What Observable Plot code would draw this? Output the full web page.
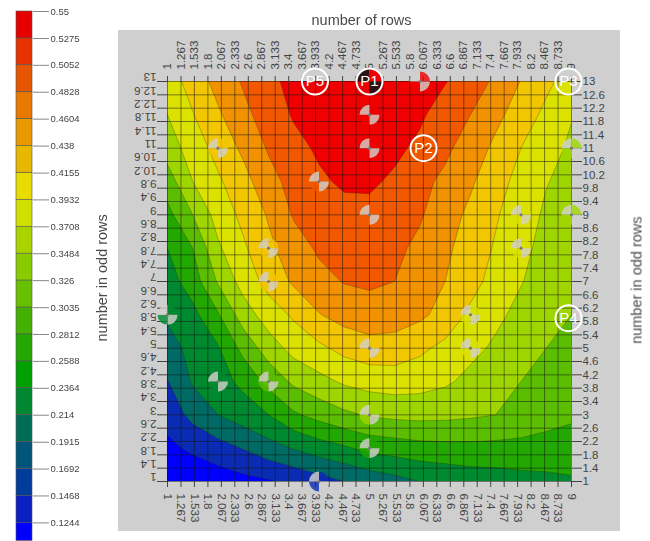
<!DOCTYPE html>
<html>
<head>
<meta charset="utf-8">
<script src="https://cdn.jsdelivr.net/npm/d3@7"></script>
<script src="https://cdn.jsdelivr.net/npm/@observablehq/plot@0.6"></script>
<style>
html,body{margin:0;padding:0;background:#fff;}
#wrap{position:relative;width:650px;height:541px;overflow:hidden;filter:blur(0.4px);}
#panel{position:absolute;left:118px;top:30px;width:502px;height:501px;background:#cfcfcf;}
#chart,#bar{position:absolute;left:0;top:0;}
svg{background:transparent !important;display:block;}
</style>
</head>
<body>
<div id="wrap"><div id="panel"></div><div id="chart"></div><div id="bar"></div></div>
<script>
const xTicks=[1,1.267,1.533,1.8,2.067,2.333,2.6,2.867,3.133,3.4,3.667,3.933,4.2,4.467,4.733,5,5.267,5.533,5.8,6.067,6.333,6.6,6.867,7.133,7.4,7.667,7.933,8.2,8.467,8.733,9];
const yTicks=[1,1.4,1.8,2.2,2.6,3,3.4,3.8,4.2,4.6,5,5.4,5.8,6.2,6.6,7,7.4,7.8,8.2,8.6,9,9.4,9.8,10.2,10.6,11,11.4,11.8,12.2,12.6,13];
const gridCols=17;
const row1 =[.0818,.0934,.1031,.1128,.1205,.1321,.1476,.1631,.1766,.1882,.2018,.2095,.2173,.2211,.2269,.2308,.2354];
const row2 =[.1147,.1321,.1476,.1650,.1863,.2037,.2211,.2347,.2521,.2579,.2649,.2676,.2687,.2676,.2668,.2637,.2629];
const row3 =[.1399,.1747,.2018,.2211,.2405,.2734,.2927,.3101,.3218,.3276,.3295,.3276,.3237,.3179,.3063,.2947,.2850];
const row4 =[.1612,.2057,.2250,.2502,.2908,.3256,.3449,.3623,.3720,.3758,.3720,.3623,.3468,.3334,.3179,.3082,.2985];
const row5 =[.1863,.2134,.2366,.2908,.3372,.3700,.3875,.4068,.4184,.4165,.4030,.3855,.3662,.3507,.3353,.3179,.3082];
const row6 =[.2076,.2289,.2753,.3372,.3758,.4010,.4320,.4494,.4571,.4533,.4416,.4204,.3875,.3643,.3468,.3314,.3179];
const row7 =[.2231,.2598,.3218,.3720,.4087,.4397,.4610,.4745,.4784,.4726,.4533,.4339,.4087,.3816,.3584,.3410,.3256];
const row8 =[.2405,.2792,.3507,.3894,.4254,.4552,.4784,.4881,.4900,.4803,.4649,.4416,.4165,.3913,.3662,.3449,.3334];
const row9 =[.2676,.3179,.3720,.4049,.4378,.4765,.4919,.4997,.5016,.4919,.4765,.4513,.4254,.3991,.3739,.3507,.3391];
const row10=[.2985,.3565,.3894,.4204,.4590,.4861,.5055,.5171,.5171,.5055,.4823,.4649,.4397,.4087,.3836,.3584,.3449];
const row11=[.3372,.3739,.4087,.4416,.4765,.4997,.5171,.5248,.5287,.5190,.5036,.4803,.4552,.4254,.3952,.3700,.3507];
const row12=[.3565,.3933,.4281,.4629,.4900,.5152,.5268,.5345,.5345,.5287,.5171,.4939,.4726,.4436,.4165,.3855,.3584];
const row13=[.3758,.4107,.4474,.4765,.5016,.5229,.5326,.5403,.5480,.5403,.5287,.5132,.4939,.4649,.4323,.4049,.3758];
const levels=[.1244,.1631,.2018,.2405,.2792,.3179,.3566,.3953,.4340,.4727,.5114];
const bandColors=["#0000ff","#0a2cb4","#006a64","#008a30","#22a800","#5cbe00","#a0d600","#dce200","#f2c600","#f29200","#f25800","#f00000"];
const pointX=[2,5,5,5,6,4,3,3,1,2,3,5,5,5,4,7,7,8,8,9,9];
const pointY=[11,12,11,9,13,10,8,7,6,4,4,5,3,2,1,6,5,9,8,11,9];
const pointV=[.4087,.5345,.5287,.5016,.5287,.5055,.4254,.4087,.2076,.2250,.2908,.4184,.3218,.2521,.1476,.3875,.3662,.3739,.3662,.3507,.3391];
const optimumX=[5],optimumY=[13],optimumV=[.548];
const pNames=["P1","P2","P3","P4","P5"];
const pX=[5,6.07,8.94,8.94,3.92];
const pY=[13,11,13,5.9,13];
const barTicks=[.55,.5275,.5052,.4828,.4604,.438,.4155,.3932,.3708,.3484,.326,.3035,.2812,.2588,.2364,.214,.1915,.1692,.1468,.1244];
const barColors=["#e60000","#e63200","#e65600","#e87800","#e89a00","#e8b800","#e8dc00","#cfe000","#aad400","#88cc00","#66c000","#44b000","#22a800","#00a000","#008830","#006e55","#005578","#003c9a","#0a20c0","#0000ff"];
const barFloor=.1094;

const values=[row1,row2,row3,row4,row5,row6,row7,row8,row9,row10,row11,row12,row13].flat();
const gridRows=values.length/gridCols;
const points=pointX.map((x,i)=>({x,y:pointY[i],v:pointV[i]}));
const optimum=optimumX.map((x,i)=>({x,y:optimumY[i],v:optimumV[i]}));
const labels=pNames.map((name,i)=>({name,x:pX[i],y:pY[i]}));
const quad=(a,b)=>({draw(c,size){const r=Math.sqrt(size/Math.PI);
  for(const [s,e] of [[a,b],[a+Math.PI,b+Math.PI]]){c.moveTo(0,0);c.arc(0,0,r,s,e);c.closePath();}}});
const tlbr=quad(Math.PI,1.5*Math.PI), trbl=quad(1.5*Math.PI,2*Math.PI);
const fmt=d=>String(d);
const axisFont={fontFamily:"Liberation Sans, sans-serif",fontSize:11.5};
const titleStyle={fontFamily:"Liberation Sans, sans-serif",fontSize:14.5,fill:"#4a4a4a"};

const chart=Plot.plot({
  width:650,height:541,marginLeft:167,marginRight:79,marginTop:81,marginBottom:60,
  style:{background:"transparent",overflow:"visible",...axisFont},
  x:{domain:[1,9],axis:null},
  y:{domain:[1,13],axis:null},
  color:{type:"threshold",domain:levels,range:bandColors},
  marks:[
    Plot.contour(values,{width:gridCols,height:gridRows,x1:.75,x2:9.25,y1:.5,y2:13.5,
      thresholds:[0,...levels],fill:Plot.identity,stroke:"#2a2a00",strokeWidth:.6,strokeOpacity:.5,clip:"frame"}),
    Plot.ruleX(xTicks,{stroke:"#111",strokeOpacity:.5,strokeWidth:1}),
    Plot.ruleY(yTicks,{stroke:"#111",strokeOpacity:.5,strokeWidth:1}),
    Plot.axisX({anchor:"top",ticks:xTicks,tickFormat:fmt,tickRotate:-90,textAnchor:"start",tickSize:6,tickPadding:6,color:"#444",label:null,...axisFont}),
    Plot.axisX({anchor:"bottom",ticks:xTicks,tickFormat:fmt,tickRotate:90,textAnchor:"start",tickSize:6,tickPadding:6,color:"#444",label:null,...axisFont}),
    Plot.axisY({anchor:"left",ticks:yTicks,tickFormat:fmt,tickRotate:180,textAnchor:"start",tickSize:10,tickPadding:1,color:"#444",label:null,...axisFont}),
    Plot.axisY({anchor:"right",ticks:yTicks,tickFormat:fmt,tickSize:10,tickPadding:1,color:"#444",label:null,...axisFont}),
    Plot.dot(points,{x:"x",y:"y",r:10,symbol:trbl,fill:"v",fillOpacity:.8,stroke:"none"}),
    Plot.dot(points,{x:"x",y:"y",r:10,symbol:tlbr,fill:"#d2cfcb",fillOpacity:.82,stroke:"none"}),
    Plot.dot(points,{x:"x",y:"y",r:1.6,fill:"#7a7a7a"}),
    Plot.dot(optimum,{x:"x",y:"y",r:13,symbol:trbl,fill:"v",stroke:"none"}),
    Plot.dot(optimum,{x:"x",y:"y",r:13,symbol:tlbr,fill:"#2a1416",stroke:"none"}),
    Plot.dot(labels,{x:"x",y:"y",r:13,stroke:"#fff",strokeWidth:2,fill:"none"}),
    Plot.text(labels,{x:"x",y:"y",text:"name",fill:"#fff",fontSize:15,fontFamily:"Liberation Sans, sans-serif"}),
    Plot.text(["number of rows"],{frameAnchor:"top",dx:-8,dy:-67,...titleStyle}),
    Plot.text(["number in odd rows"],{frameAnchor:"left",rotate:-90,dx:-65,dy:60,...titleStyle}),
    Plot.text(["number in odd rows"],{frameAnchor:"right",rotate:-90,dx:65,dy:-65,...titleStyle})
  ]
});
document.getElementById("chart").append(chart);

const barEdges=[...barTicks,barFloor];
const barBands=barColors.map((c,i)=>({hi:barEdges[i],lo:barEdges[i+1],c}));
const bar=Plot.plot({
  width:118,height:541,marginLeft:16,marginRight:86,marginTop:11,marginBottom:0,
  style:{background:"transparent",overflow:"visible",fontFamily:"Liberation Sans, sans-serif",fontSize:9.5},
  x:{domain:[0,1],axis:null},
  y:{domain:[barFloor-.0005,.55],axis:null},
  marks:[
    Plot.rect(barBands,{x1:0,x2:1,y1:"lo",y2:"hi",fill:"c",stroke:"#555",strokeWidth:.6}),
    Plot.axisY({anchor:"right",ticks:barTicks,tickFormat:fmt,tickSize:16,tickPadding:2,color:"#444",stroke:"#888",label:null,fontSize:9.5})
  ]
});
document.getElementById("bar").append(bar);
</script>
</body>
</html>
